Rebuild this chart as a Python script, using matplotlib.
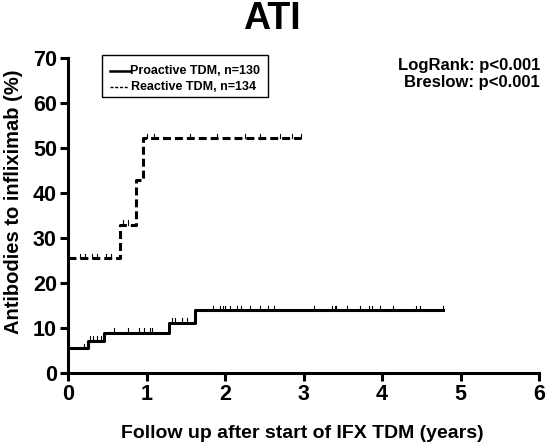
import matplotlib.pyplot as plt
import numpy as np
from matplotlib.lines import Line2D
from matplotlib.patches import Rectangle

plt.rcParams['font.family'] = ['Liberation Sans', 'DejaVu Sans']
plt.rcParams['font.weight'] = 'bold'

# step curves: event times (years) and cumulative % with antibodies
pro_t = [0, 0.26, 0.46, 1.29, 1.62, 4.78]
pro_y = [5.5, 7.2, 9.0, 11.2, 14.0, 14.0]
re_t = [0, 0.66, 0.87, 0.96, 2.97]
re_y = [25.5, 33.0, 42.9, 52.2, 52.2]

# censored observations (years)
pro_cens = [0.2, 0.28, 0.32, 0.37, 0.42, 0.58, 0.77, 0.9, 0.97, 1.04, 1.07,
            1.32, 1.36, 1.45, 1.51, 1.85, 1.93, 1.97, 2.0, 2.06, 2.15, 2.21,
            2.32, 2.45, 2.55, 2.62, 3.13, 3.36, 3.4, 3.42, 3.55, 3.72, 3.83,
            3.87, 3.97, 4.14, 4.43, 4.48, 4.78]
re_cens = [0.15, 0.22, 0.3, 0.37, 0.49, 0.55, 0.7, 0.77, 1.0, 1.1, 1.55,
           1.9, 2.25, 2.45, 2.7, 2.85, 2.97]

labels = ['Proactive TDM, n=130', 'Reactive TDM, n=134']
stats = 'LogRank: p<0.001\nBreslow: p<0.001'

W, H = 551, 447


def fx(px):
    return px / W


def fy(py):
    return 1 - py / H


def level_at(t, times, vals):
    i = np.searchsorted(times, t, side='right') - 1
    return vals[max(i, 0)]


fig = plt.figure(figsize=(W / 100, H / 100), dpi=100)
ax = fig.add_axes([fx(68), fy(373), 471 / W, 315 / H])

lw = 2.2
ax.step(pro_t, pro_y, where='post', color='black', lw=lw)
ax.step(re_t, re_y, where='post', color='black', lw=lw, dashes=[2.6, 1.3])

for t in pro_cens:
    y = level_at(t, pro_t, pro_y)
    ax.plot([t, t], [y, y + 1.0], color='black', lw=0.8)
for t in re_cens:
    y = level_at(t, re_t, re_y)
    ax.plot([t, t], [y, y + 1.0], color='black', lw=0.8)

ax.set_xlim(0, 6)
ax.set_ylim(0, 70)
ax.set_xticks(range(0, 7))
ax.set_yticks(range(0, 71, 10))
for s in ['top', 'right']:
    ax.spines[s].set_visible(False)
for s in ['left', 'bottom']:
    ax.spines[s].set_linewidth(2.2)
ax.tick_params(width=2.2, length=6, labelsize=15.5, pad=2)
for lab in ax.get_xticklabels() + ax.get_yticklabels():
    lab.set_fontweight('bold')

fig.text(fx(302), fy(433), 'Follow up after start of IFX TDM (years)',
         fontsize=14, fontweight='bold', ha='center', va='center')
fig.text(fx(14), fy(202), 'Antibodies to infliximab (%)', fontsize=14.5,
         fontweight='bold', ha='center', va='center', rotation=90)
fig.text(fx(272), fy(19), 'ATI', fontsize=27, fontweight='bold',
         ha='center', va='center')

# legend box
fig.add_artist(Rectangle((fx(102), fy(97)), (268 - 102) / W, (97 - 55) / H,
                         transform=fig.transFigure, fill=False,
                         edgecolor='black', lw=1.0))
fig.add_artist(Line2D([fx(110), fx(130)], [fy(71), fy(71)],
                      transform=fig.transFigure, color='black', lw=1.8))
fig.add_artist(Line2D([fx(110), fx(128)], [fy(87), fy(87)],
                      transform=fig.transFigure, color='black', lw=1.0,
                      dashes=[2.2, 1.2]))
fig.text(fx(130), fy(71), labels[0], fontsize=9, fontweight='bold',
         va='center', ha='left')
fig.text(fx(131), fy(87), labels[1], fontsize=9, fontweight='bold',
         va='center', ha='left')

fig.text(fx(540), fy(74), stats, ha='right', va='center', fontsize=12,
         fontweight='bold', linespacing=1.1)

fig.savefig('out.png', dpi=100)
